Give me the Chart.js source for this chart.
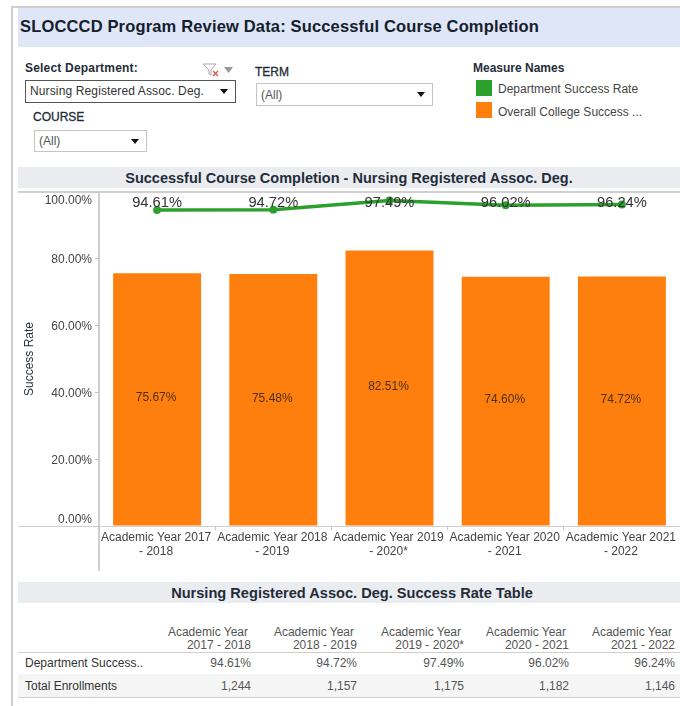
<!DOCTYPE html>
<html>
<head>
<meta charset="utf-8">
<script src="https://cdn.jsdelivr.net/npm/chart.js@4"></script>
<style>
html, body { margin: 0; padding: 0; background: #fff; }
body { position: relative; width: 680px; height: 706px; overflow: hidden; font-family: "Liberation Sans", Arial, sans-serif; color: #333; }
.abs { position: absolute; white-space: nowrap; }
.band { position: absolute; left: 18px; width: 662px; background: #ebecf0; text-align: center; font-weight: bold; color: #1f2d3a; box-sizing: border-box; }
.rule { position: absolute; background: #cfcfcf; }
.select { position: absolute; box-sizing: border-box; background: #fff; border: 1px solid #c4c4c4; font-size: 12px; color: #555; padding-left: 4px; line-height: 20px; }
.select.on { border: 1px solid #555; color: #333; letter-spacing: .13px; }
.select i { position: absolute; right: 7px; top: 8px; width: 0; height: 0; border-left: 4px solid transparent; border-right: 4px solid transparent; border-top: 5px solid #111; }
.lab { font-size: 12px; font-weight: bold; color: #1f2d3a; }
.swatch { position: absolute; left: 476px; width: 16px; height: 16px; }
.leg { font-size: 12px; color: #444; }
#chartBox { position: absolute; left: 18px; top: 186px; width: 662px; height: 385px; }
.th, .td { position: absolute; font-size: 12px; color: #555; text-align: right; white-space: nowrap; }
</style>
</head>
<body>
<div class="rule" style="left:11px;top:6px;width:669px;height:2px"></div>
<div class="rule" style="left:11px;top:6px;width:2px;height:700px"></div>

<div class="abs" id="mainTitle" style="left:18px;top:8px;width:662px;height:39px;background:#dfe6f7"></div>
<div class="abs" style="left:20px;top:17px;font-size:16.5px;font-weight:bold;letter-spacing:.16px;color:#14202c">SLOCCCD Program Review Data: Successful Course Completion</div>

<div class="abs lab" style="left:25px;top:61px;letter-spacing:.2px">Select Department:</div>
<svg class="abs" style="left:202px;top:63px" width="32" height="14">
  <path d="M1 1 H14 L9 7 V12 L7 11 V7 Z" fill="none" stroke="#aaa"/>
  <path d="M11 8 L16 13 M16 8 L11 13" stroke="#d9534f" stroke-width="1.3"/>
  <path d="M22 4 H31 L26.5 10 Z" fill="#999"/>
</svg>
<div class="select on" style="left:25px;top:80px;width:211px;height:23px">Nursing Registered Assoc. Deg.<i></i></div>
<div class="abs lab" style="left:255px;top:65px;font-weight:normal;-webkit-text-stroke:.3px #1f2d3a">TERM</div>
<div class="select" style="left:256px;top:83px;width:177px;height:23px"><span style="position:relative;top:1px">(All)</span><i></i></div>
<div class="abs lab" style="left:33px;top:110px;font-weight:normal;-webkit-text-stroke:.3px #1f2d3a">COURSE</div>
<div class="select" style="left:34px;top:130px;width:113px;height:22px"><span>(All)</span><i></i></div>

<div class="abs lab" style="left:473px;top:61px">Measure Names</div>
<div class="swatch" style="top:80px;background:#2ca02c"></div>
<div class="swatch" style="top:102px;background:#ff7f0e"></div>
<div class="abs leg" id="leg1" style="left:498px;top:82px"></div>
<div class="abs leg" id="leg2" style="left:498px;top:105px"></div>

<div class="band" id="chartTitle" style="top:167px;height:21px;line-height:22px;font-size:14.5px"></div>
<div class="rule" style="left:18px;top:191px;width:662px;height:2px"></div>
<div class="rule" style="left:98px;top:191px;width:2px;height:380px"></div>
<div class="rule" style="left:18px;top:526px;width:662px;height:1px"></div>

<div id="chartBox"><canvas id="myChart"></canvas></div>

<div class="band" id="tableTitle" style="top:582px;height:21px;line-height:22px;font-size:14.6px;padding-left:6px"></div>
<div class="rule" style="left:18px;top:652px;width:662px;height:1px"></div>
<div class="abs" style="left:18px;top:674px;width:662px;height:23px;background:#f5f5f5"></div>
<div class="rule" style="left:18px;top:697px;width:662px;height:1px"></div>
<div id="tabla"></div>

<script>
// datos
var departamento = "Nursing Registered Assoc. Deg.";
var categorias = [
    ["Academic Year 2017", "- 2018"],
    ["Academic Year 2018", "- 2019"],
    ["Academic Year 2019", "- 2020*"],
    ["Academic Year 2020", "- 2021"],
    ["Academic Year 2021", "- 2022"]
];
var periodos = ["2017 - 2018", "2018 - 2019", "2019 - 2020*", "2020 - 2021", "2021 - 2022"];
var tasaDepartamento = [94.61, 94.72, 97.49, 96.02, 96.24];
var tasaColegio = [75.67, 75.48, 82.51, 74.60, 74.72];
var matriculas = [1244, 1157, 1175, 1182, 1146];
var marcasY = [0, 20, 40, 60, 80, 100];
var nombreSerie1 = "Department Success Rate";
var nombreSerie2 = "Overall College Success ...";

var VERDE = '#2ca02c';
var NARANJA = '#ff7f0e';

document.getElementById('leg1').textContent = nombreSerie1;
document.getElementById('leg2').textContent = nombreSerie2;
document.getElementById('chartTitle').textContent = "Successful Course Completion - " + departamento;
document.getElementById('tableTitle').textContent = departamento + " Success Rate Table";

function pct(v) { return v.toFixed(2) + "%"; }

// sin esto chart.js reserva hueco para las etiquetas y encoge el area
function sinMargen(scale) {
    scale.paddingTop = 0;
    scale.paddingBottom = 0;
    scale.paddingLeft = 0;
    scale.paddingRight = 0;
}

// etiquetas de valor encima de las marcas
var etiquetas = {
    id: 'etiquetas',
    afterDatasetsDraw: function (chart) {
        var ctx = chart.ctx;
        var y = chart.scales.y;
        ctx.save();
        ctx.textAlign = 'center';
        ctx.textBaseline = 'middle';
        chart.getDatasetMeta(1).data.forEach(function (bar, i) {
            ctx.font = '12px "Liberation Sans", Arial, sans-serif';
            ctx.fillStyle = '#4a3010';
            ctx.fillText(pct(tasaColegio[i]), bar.x - 1, y.getPixelForValue(tasaColegio[i] / 2) - 1.5);
        });
        chart.getDatasetMeta(0).data.forEach(function (pt, i) {
            ctx.font = '14.7px "Liberation Sans", Arial, sans-serif';
            ctx.fillStyle = '#333';
            // en el original quedan todas a la misma altura
            ctx.fillText(pct(tasaDepartamento[i]), pt.x, y.getPixelForValue(97) + 1);
        });
        ctx.restore();
    }
};

var chart = new Chart(document.getElementById('myChart').getContext('2d'), {
    type: 'bar',
    data: {
        labels: categorias,
        datasets: [{
            type: 'line',
            label: nombreSerie1,
            data: tasaDepartamento,
            borderColor: VERDE,
            backgroundColor: VERDE,
            borderWidth: 3.5,
            pointRadius: 2.2,
            pointHoverRadius: 2.2,
            tension: 0,
            order: 1
        }, {
            type: 'bar',
            label: nombreSerie2,
            data: tasaColegio,
            backgroundColor: NARANJA,
            barPercentage: 0.757,
            categoryPercentage: 1,
            order: 2
        }]
    },
    plugins: [etiquetas],
    options: {
        responsive: true,
        maintainAspectRatio: false,
        animation: false,
        layout: { autoPadding: false, padding: { top: 6, left: 0, right: 0, bottom: 0 } },
        plugins: { legend: { display: false }, tooltip: { enabled: false } },
        scales: {
            x: {
                offset: true,
                border: { display: false },
                grid: { drawOnChartArea: false, drawTicks: true, tickLength: 4, color: '#c4c4c4', offset: true },
                ticks: {
                    maxRotation: 0,
                    autoSkip: false,
                    padding: 1,
                    labelOffset: -1,
                    color: '#444',
                    font: { family: '"Liberation Sans", Arial, sans-serif', size: 12, lineHeight: 1.17 }
                },
                afterFit: function (scale) { scale.height = 45; sinMargen(scale); }
            },
            y: {
                min: 0,
                max: 100,
                afterBuildTicks: function (scale) {
                    scale.ticks = marcasY.map(function (v) { return { value: v }; });
                },
                border: { display: false },
                grid: { drawOnChartArea: false, drawTicks: true, tickLength: 4, color: '#c4c4c4' },
                title: {
                    display: true,
                    text: 'Success Rate',
                    color: '#1f2d3a',
                    padding: { top: 4, bottom: 0 },
                    font: { family: '"Liberation Sans", Arial, sans-serif', size: 12 }
                },
                ticks: {
                    padding: 3,
                    labelOffset: 1,
                    color: '#444',
                    font: { family: '"Liberation Sans", Arial, sans-serif', size: 12, lineHeight: 1.2 },
                    // 0 y 100 van desplazadas hacia dentro, con una linea vacia
                    callback: function (v) {
                        if (v === 0) return [pct(v), ""];
                        if (v === 100) return ["", pct(v)];
                        return pct(v);
                    }
                },
                afterFit: function (scale) { scale.width = 81; sinMargen(scale); }
            }
        }
    }
});

// tabla de abajo
var bordes = [251, 357, 464, 569, 675];
var tabla = document.getElementById('tabla');
function celda(clase, txt, der, top) {
    var d = document.createElement('div');
    d.className = clase;
    d.textContent = txt;
    d.style.right = (680 - der) + 'px';
    d.style.top = top + 'px';
    tabla.appendChild(d);
}
periodos.forEach(function (p, i) {
    celda('th', "Academic Year", bordes[i] - 3, 625);
    celda('th', p, bordes[i], 638);
    celda('td', pct(tasaDepartamento[i]), bordes[i], 656);
    celda('td', matriculas[i].toLocaleString('en-US'), bordes[i], 679);
});
var f1 = document.createElement('div');
f1.className = 'td'; f1.textContent = "Department Success.."; f1.style.left = '25px'; f1.style.top = '656px'; f1.style.color = '#333';
tabla.appendChild(f1);
var f2 = document.createElement('div');
f2.className = 'td'; f2.textContent = "Total Enrollments"; f2.style.left = '25px'; f2.style.top = '679px'; f2.style.color = '#333';
tabla.appendChild(f2);
</script>
</body>
</html>
